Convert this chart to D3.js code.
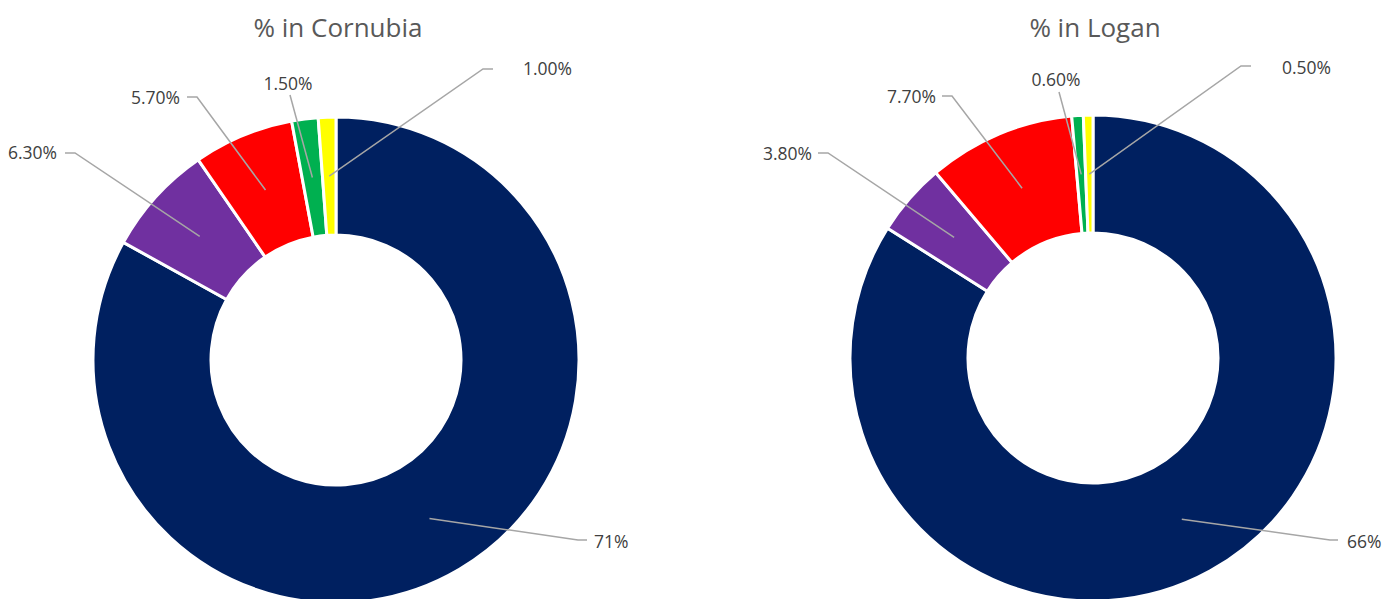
<!DOCTYPE html>
<meta charset="utf-8">
<head>
  <script src="https://cdn.jsdelivr.net/npm/d3@7"></script>
  <style>
    body { margin: 0; background: #fff; }
    text { font-family: "Open Sans", sans-serif; }
  </style>
  <title>Donuts</title>
</head>
<body>
  <div id="chart"></div>
  <script>
    // data
    const sliceKeys = ["navy", "purple", "red", "green", "yellow"];
    const sliceColors = ["#002060", "#7030A0", "#FF0000", "#00B050", "#FFFF00"];

    const cornubiaValues = [71, 6.3, 5.7, 1.5, 1.0];
    const cornubiaLabels = ["71%", "6.30%", "5.70%", "1.50%", "1.00%"];

    const loganValues = [66, 3.8, 7.7, 0.6, 0.5];
    const loganLabels = ["66%", "3.80%", "7.70%", "0.60%", "0.50%"];

    const titles = ["% in Cornubia", "% in Logan"];

    // label placement, relative to donut centre: text x/y, anchor, leader knee and end
    const cornubiaLayout = [
      {tx: 258, ty: 182, anchor: "start", kx: 242, ky: 180, ex: 251},
      {tx: -279, ty: -207, anchor: "end", kx: -261, ky: -207, ex: -271},
      {tx: -156, ty: -262, anchor: "end", kx: -139, ky: -263, ex: -149},
      {tx: -48, ty: -276, anchor: "middle", kx: -46, ky: -265, ex: -46},
      {tx: 187, ty: -291, anchor: "start", kx: 147, ky: -291, ex: 157}
    ];
    const loganLayout = [
      {tx: 254, ty: 184, anchor: "start", kx: 237, ky: 182, ex: 245},
      {tx: -281, ty: -204, anchor: "end", kx: -265, ky: -205, ex: -275},
      {tx: -157, ty: -261, anchor: "end", kx: -141, ky: -262, ex: -151},
      {tx: -37, ty: -278, anchor: "middle", kx: -34, ky: -266, ex: -34},
      {tx: 189, ty: -290, anchor: "start", kx: 148, ky: -292, ex: 158}
    ];

    const width = 1395, height = 599;
    const outerR = 243, innerR = 125;

    const svg = d3.select("#chart").append("svg")
        .attr("width", width)
        .attr("height", height);

    const color = d3.scaleOrdinal().domain(sliceKeys).range(sliceColors);
    const pie = d3.pie().sort(null).value(d => d.value);
    const arc = d3.arc().innerRadius(innerR).outerRadius(outerR);

    function drawDonut(cx, cy, title, values, labels, layout) {
      const rows = values.map((v, i) => ({key: sliceKeys[i], value: v, label: labels[i], pos: layout[i]}));

      svg.append("text")
          .attr("x", cx + 2)
          .attr("y", 37)
          .attr("text-anchor", "middle")
          .attr("fill", "#595959")
          .style("font-size", "26px")
          .text(title);

      const g = svg.append("g").attr("transform", `translate(${cx},${cy})`);

      g.selectAll("path.slice")
        .data(pie(rows))
        .enter().append("path")
          .attr("class", "slice")
          .attr("d", arc)
          .attr("fill", d => color(d.data.key))
          .attr("stroke", "#fff")
          .attr("stroke-width", 3);

      // leader lines from slice centroid
      g.selectAll("polyline")
        .data(pie(rows))
        .enter().append("polyline")
          .attr("points", d => {
            const c = arc.centroid(d), p = d.data.pos;
            return [c, [p.kx, p.ky], [p.ex, p.ky]].map(q => q.join(",")).join(" ");
          })
          .attr("fill", "none")
          .attr("stroke", "#A6A6A6")
          .attr("stroke-width", 1.5);

      g.selectAll("text.lbl")
        .data(rows)
        .enter().append("text")
          .attr("class", "lbl")
          .attr("x", d => d.pos.tx)
          .attr("y", d => d.pos.ty)
          .attr("dy", "0.35em")
          .attr("text-anchor", d => d.pos.anchor)
          .attr("fill", "#404040")
          .style("font-size", "17.5px")
          .text(d => d.label);
    }

    drawDonut(336, 360, titles[0], cornubiaValues, cornubiaLabels, cornubiaLayout);
    drawDonut(1093, 358, titles[1], loganValues, loganLabels, loganLayout);
  </script>
</body>
